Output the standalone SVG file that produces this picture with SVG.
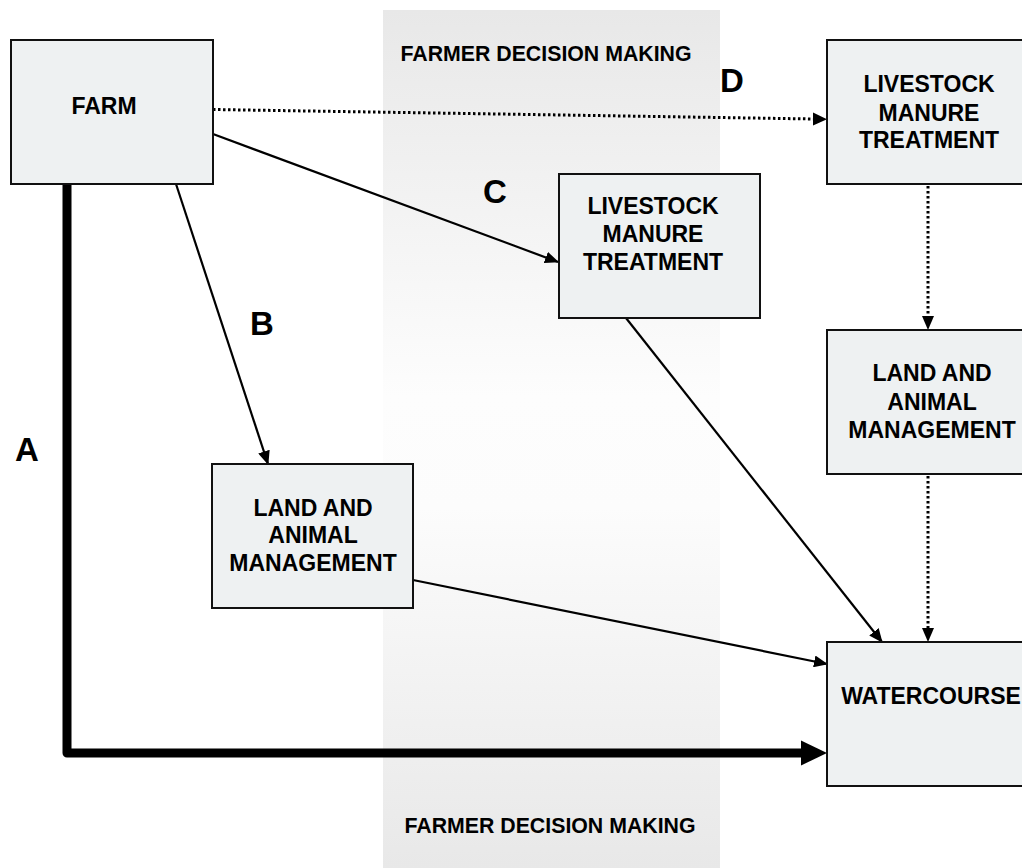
<svg xmlns="http://www.w3.org/2000/svg" width="1022" height="868" viewBox="0 0 1022 868">
<defs>
<linearGradient id="band" x1="0" y1="0" x2="0" y2="1">
<stop offset="0" stop-color="#e8e8e8"/>
<stop offset="0.45" stop-color="#fdfdfd"/>
<stop offset="0.58" stop-color="#fcfcfc"/>
<stop offset="1" stop-color="#e8e8e8"/>
</linearGradient>
<marker id="ah" markerUnits="userSpaceOnUse" markerWidth="14" markerHeight="12" refX="13" refY="6" orient="auto">
<path d="M0,0 L14,6 L0,12 Z" fill="#000"/>
</marker>
<style>
.box{fill:#eef1f2;stroke:#111;stroke-width:2}
.t{font-family:"Liberation Sans",Arial,sans-serif;font-weight:bold;font-size:23px;fill:#000;text-anchor:middle}
.band{font-family:"Liberation Sans",Arial,sans-serif;font-weight:bold;font-size:21.3px;fill:#000;text-anchor:middle}
.lbl{font-family:"Liberation Sans",Arial,sans-serif;font-weight:bold;font-size:33px;fill:#000;text-anchor:middle}
.thin{fill:none;stroke:#000;stroke-width:2.2}
.dot{fill:none;stroke:#000;stroke-width:3;stroke-dasharray:2.5 2.5}
</style>
</defs>
<rect x="0" y="0" width="1022" height="868" fill="#fff"/>
<g id="decision-band">
<rect x="383" y="10" width="337" height="858" fill="url(#band)"/>
<text class="band" x="546" y="61">FARMER DECISION MAKING</text>
<text class="band" x="550" y="833">FARMER DECISION MAKING</text>
</g>
<g id="connectors">
<path d="M67,184 L67,753 L802,753" fill="none" stroke="#000" stroke-width="9" stroke-linejoin="round"/>
<polygon points="801,740.5 827,753 801,765.5" fill="#000"/>
<line class="thin" x1="176" y1="184" x2="268" y2="464" marker-end="url(#ah)"/>
<line class="thin" x1="213" y1="134" x2="558" y2="262" marker-end="url(#ah)"/>
<line class="dot" x1="213" y1="109.5" x2="814" y2="119"/>
<path d="M813,112.5 L827,119.2 L813,125.5 Z" fill="#000"/>
<line class="thin" x1="626" y1="318" x2="882" y2="642" marker-end="url(#ah)"/>
<line class="thin" x1="413" y1="580" x2="827" y2="664" marker-end="url(#ah)"/>
<line class="dot" x1="928" y1="186" x2="928" y2="318"/>
<path d="M922,316 L928,330 L934,316 Z" fill="#000"/>
<line class="dot" x1="928" y1="476" x2="928" y2="630"/>
<path d="M922,628 L928,642 L934,628 Z" fill="#000"/>
</g>
<g id="farm">
<rect class="box" x="11" y="40" width="202" height="144"/>
<text class="t" x="104" y="114">FARM</text>
</g>
<g id="lmt-center">
<rect class="box" x="559" y="174" width="201" height="144"/>
<text class="t" x="653" y="214">LIVESTOCK</text>
<text class="t" x="653" y="242">MANURE</text>
<text class="t" x="653" y="270">TREATMENT</text>
</g>
<g id="lmt-right">
<rect class="box" x="827" y="40" width="202" height="144"/>
<text class="t" x="929" y="92">LIVESTOCK</text>
<text class="t" x="929" y="121">MANURE</text>
<text class="t" x="929" y="148">TREATMENT</text>
</g>
<g id="lam-left">
<rect class="box" x="212" y="464" width="201" height="144"/>
<text class="t" x="313" y="516">LAND AND</text>
<text class="t" x="313" y="543">ANIMAL</text>
<text class="t" x="313" y="571">MANAGEMENT</text>
</g>
<g id="lam-right">
<rect class="box" x="827" y="330" width="202" height="144"/>
<text class="t" x="932" y="381">LAND AND</text>
<text class="t" x="932" y="410">ANIMAL</text>
<text class="t" x="932" y="438">MANAGEMENT</text>
</g>
<g id="watercourse">
<rect class="box" x="827" y="642" width="202" height="144"/>
<text class="t" x="931" y="704">WATERCOURSE</text>
</g>
<g id="labels">
<text class="lbl" x="27" y="461">A</text>
<text class="lbl" x="262" y="335">B</text>
<text class="lbl" x="495" y="203">C</text>
<text class="lbl" x="732" y="92">D</text>
</g>
</svg>
